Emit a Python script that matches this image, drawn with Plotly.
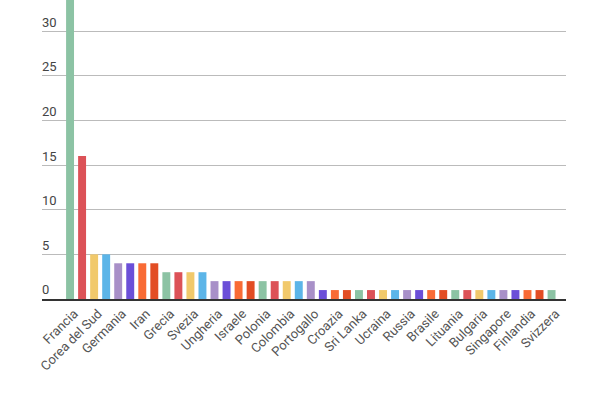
import plotly.graph_objects as go

# every other bar carries a label in the original chart
labels = [
    "Francia", "Corea del Sud", "Germania", "Iran", "Grecia", "Svezia",
    "Ungheria", "Israele", "Polonia", "Colombia", "Portogallo", "Croazia",
    "Sri Lanka", "Ucraina", "Russia", "Brasile", "Lituania", "Bulgaria",
    "Singapore", "Finlandia", "Svizzera",
]
values = [38, 16, 5, 5, 4, 4, 4, 4, 3, 3, 3, 3] + [2] * 9 + [1] * 20
palette = ["#8cc3a4", "#dc5257", "#f1c96b", "#5cb5e8",
           "#a890c8", "#6b4fd8", "#f96b35", "#e24d24"]

x = list(range(len(values)))
colors = [palette[i % len(palette)] for i in x]

fig = go.Figure()
fig.add_trace(
    go.Bar(x=x, y=values, marker={"color": colors, "line": {"width": 0}},
           width=0.66, hoverinfo="skip")
)

fig.update_layout(
    width=600,
    height=400,
    margin=dict(l=42, r=34, t=0, b=101, autoexpand=False),
    plot_bgcolor="white",
    paper_bgcolor="white",
    showlegend=False,
    font=dict(family="Roboto, Arial", size=12, color="#555"),
    xaxis=dict(
        range=[-2.33, 41.2],
        tickmode="array",
        tickvals=x[::2],
        ticktext=labels,
        tickangle=-45,
        ticklabelshift=4,
        automargin=False,
        showgrid=False,
        showline=True,
        linecolor="#333",
        linewidth=2,
        ticks="",
        tickfont=dict(size=13, color="#555"),
    ),
    yaxis=dict(
        range=[0, 33.48],
        tickvals=[0, 5, 10, 15, 20, 25, 30],
        ticklabelposition="inside top",
        ticklabelstandoff=-3,
        automargin=False,
        showgrid=True,
        gridcolor="#bbbbbb",
        gridwidth=1,
        zeroline=False,
        tickfont=dict(size=13, color="#444"),
    ),
)

# drop the default body margin so the figure sits at the page corner
fig.write_html(
    "out.html",
    config={"displayModeBar": False},
    post_script="document.body.style.margin = '0';",
)
